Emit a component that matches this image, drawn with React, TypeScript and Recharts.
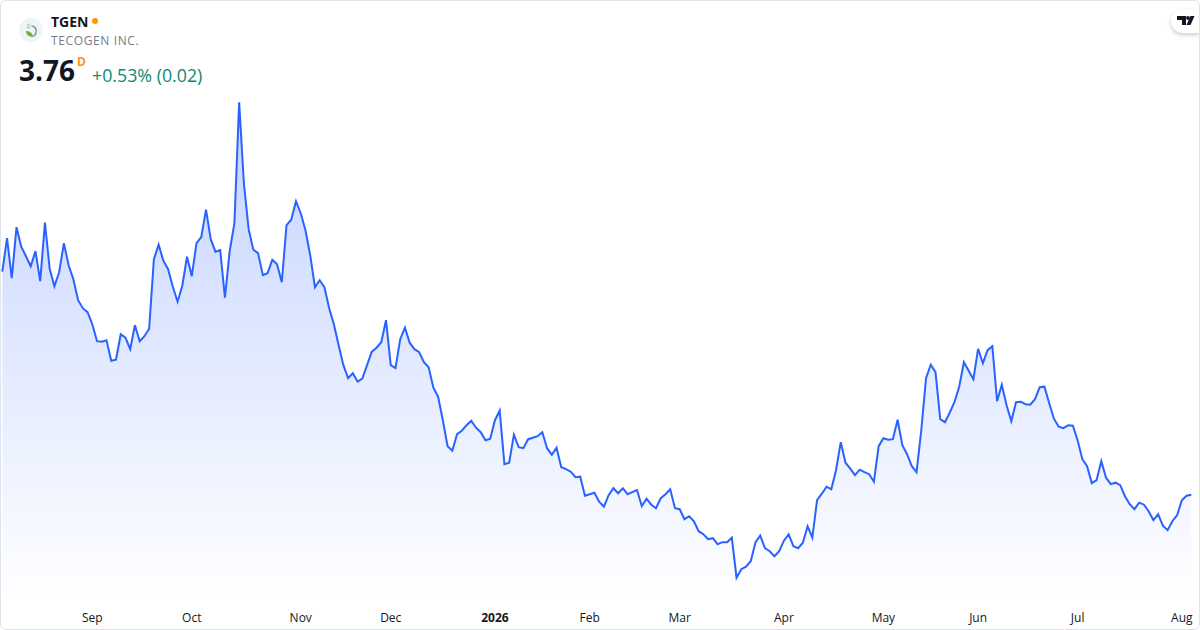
import { AreaChart, Area, XAxis, YAxis } from 'recharts';

const prices = [
  8.22, 8.89, 8.09, 9.11, 8.72, 8.53, 8.33, 8.63, 8.03, 9.20, 8.28, 7.93, 8.21, 8.79, 8.35, 8.07,
  7.65, 7.49, 7.41, 7.17, 6.83, 6.82, 6.85, 6.44, 6.46, 6.97, 6.90, 6.67, 7.15, 6.83, 6.93, 7.08,
  8.47, 8.76, 8.44, 8.27, 7.92, 7.62, 7.94, 8.52, 8.13, 8.79, 8.91, 9.46, 8.87, 8.62, 8.65, 7.70,
  8.63, 9.19, 11.61, 9.99, 9.07, 8.66, 8.59, 8.15, 8.19, 8.46, 8.37, 8.01, 9.15, 9.26, 9.63, 9.39,
  9.05, 8.55, 7.91, 8.05, 7.91, 7.49, 7.17, 6.75, 6.35, 6.09, 6.19, 6.02, 6.08, 6.35, 6.62, 6.70,
  6.81, 7.25, 6.35, 6.29, 6.87, 7.10, 6.80, 6.67, 6.61, 6.41, 6.31, 5.90, 5.72, 5.25, 4.73, 4.64,
  4.97, 5.04, 5.15, 5.24, 5.10, 5.01, 4.85, 4.88, 5.25, 5.44, 4.37, 4.40, 4.96, 4.71, 4.69, 4.87,
  4.90, 4.93, 5.01, 4.69, 4.56, 4.70, 4.31, 4.27, 4.22, 4.11, 4.12, 3.74, 3.77, 3.80, 3.62, 3.52,
  3.75, 3.89, 3.79, 3.89, 3.77, 3.81, 3.85, 3.53, 3.68, 3.56, 3.49, 3.69, 3.77, 3.87, 3.49, 3.47,
  3.27, 3.33, 3.23, 3.03, 2.97, 2.87, 2.89, 2.77, 2.81, 2.81, 2.90, 2.10, 2.27, 2.32, 2.43, 2.81,
  2.94, 2.69, 2.63, 2.53, 2.63, 2.84, 2.97, 2.73, 2.69, 2.80, 3.13, 2.90, 3.65, 3.78, 3.92, 3.87,
  4.25, 4.81, 4.40, 4.28, 4.15, 4.26, 4.21, 4.17, 4.02, 4.73, 4.89, 4.86, 4.87, 5.26, 4.75, 4.57,
  4.33, 4.21, 5.05, 6.09, 6.36, 6.21, 5.27, 5.21, 5.40, 5.61, 5.92, 6.41, 6.24, 6.07, 6.68, 6.39,
  6.65, 6.73, 5.63, 5.96, 5.55, 5.23, 5.61, 5.62, 5.57, 5.56, 5.67, 5.91, 5.92, 5.59, 5.28, 5.12,
  5.09, 5.15, 5.14, 4.85, 4.47, 4.33, 3.99, 4.05, 4.43, 4.10, 3.97, 4.00, 3.95, 3.73, 3.57, 3.47,
  3.60, 3.56, 3.43, 3.25, 3.37, 3.14, 3.05, 3.23, 3.35, 3.65, 3.74, 3.76,
];

// first trading day of each month, as an index into prices
const tickDays = [19, 40, 63, 82, 104, 124, 143, 165, 186, 206, 227, 249];
const tickLabels = ['Sep', 'Oct', 'Nov', 'Dec', '2026', 'Feb', 'Mar', 'Apr', 'May', 'Jun', 'Jul', 'Aug'];

const chartData = prices.map((price, day) => ({ day, price }));

const FONT = '"Open Sans", sans-serif';

function MonthTick({ x, y, payload }: any) {
  const label = tickLabels[tickDays.indexOf(payload.value)];
  return (
    <text
      x={x}
      y={y + 14}
      textAnchor="middle"
      fontFamily={FONT}
      fontSize={12}
      fontWeight={label === '2026' ? 700 : 400}
      fill="#131722"
    >
      {label}
    </text>
  );
}

function Header() {
  return (
    <div style={{ fontFamily: FONT }}>
      <div style={{ position: 'absolute', left: 19, top: 18, width: 24, height: 24, borderRadius: 12, background: '#f0f3fa' }}>
        <svg width="24" height="24" viewBox="0 0 24 24" style={{ display: 'block' }}>
          <path d="M7.5 7h4M7.5 9.5h4M9.5 5.5v5.5" stroke="#a5d6a0" strokeWidth="1" fill="none" />
          <path d="M12.5 7.8a5.4 5.4 0 0 1 0 10.7" fill="none" stroke="#6b8f5e" strokeWidth="1.2" />
          <path d="M7 13c0 4 3 6 6.5 5.5c0.8-3-2.5-5.5-6.5-5.5z" fill="#6fb53c" />
        </svg>
      </div>
      <div style={{ position: 'absolute', left: 51, top: 12, fontSize: 14, lineHeight: '19px', fontWeight: 700, color: '#131722' }}>TGEN</div>
      <div style={{ position: 'absolute', left: 92, top: 18, width: 6, height: 6, borderRadius: 3, background: '#ff9800' }} />
      <div style={{ position: 'absolute', left: 51, top: 32, fontSize: 12, lineHeight: '17px', letterSpacing: 0.62, color: '#787b86' }}>TECOGEN INC.</div>
      <div style={{ position: 'absolute', left: 19, top: 51, fontSize: 28, lineHeight: '38px', fontWeight: 700, color: '#131722' }}>3.76</div>
      <div style={{ position: 'absolute', left: 77, top: 54, fontSize: 12, lineHeight: '16px', fontWeight: 700, color: '#ff9800' }}>D</div>
      <div style={{ position: 'absolute', left: 92, top: 63, fontSize: 17.8, lineHeight: '24px', color: '#0b8a74' }}>+0.53% (0.02)</div>
      <div
        style={{
          position: 'absolute',
          left: 1171,
          top: 9,
          width: 29,
          height: 24,
          borderRadius: '12px 0 0 12px',
          background: '#fff',
          boxShadow: '0 2px 4px rgba(0,0,0,0.2)',
        }}
      >
        <svg width="29" height="24" viewBox="0 0 29 24" style={{ display: 'block' }}>
          <path d="M6 7h9v9h-4v-5H6zM23.5 7l-4 9h-4l4-9z" fill="#131722" />
          <circle cx="17" cy="9" r="1.9" fill="#131722" />
        </svg>
      </div>
    </div>
  );
}

export default function App() {
  return (
    <div style={{ position: 'relative', width: 1200, height: 630, background: '#fff', overflow: 'hidden' }}>
      <style>{'body{margin:0}'}</style>
      <AreaChart
        width={1200}
        height={630}
        data={chartData}
        margin={{ top: 0, right: 8.7, bottom: 0, left: 2.3 }}
      >
        <defs>
          <linearGradient id="priceFill" x1="0" y1="0" x2="0" y2="1">
            <stop offset="0%" stopColor="#2962ff" stopOpacity={0.28} />
            <stop offset="100%" stopColor="#2962ff" stopOpacity={0} />
          </linearGradient>
        </defs>
        <XAxis
          dataKey="day"
          type="number"
          domain={[0, 251]}
          ticks={tickDays}
          interval={0}
          height={30}
          axisLine={false}
          tickLine={false}
          tick={<MonthTick />}
        />
        <YAxis hide domain={[1.654, 13.654]} allowDataOverflow />
        <Area
          type="linear"
          dataKey="price"
          stroke="#2962ff"
          strokeWidth={2}
          fill="url(#priceFill)"
          fillOpacity={1}
          dot={false}
          activeDot={false}
          isAnimationActive={false}
        />
      </AreaChart>
      <Header />
      <div
        style={{
          position: 'absolute',
          inset: 0,
          boxSizing: 'border-box',
          border: '1px solid #e0e3eb',
          borderRadius: 6,
          pointerEvents: 'none',
        }}
      />
    </div>
  );
}
